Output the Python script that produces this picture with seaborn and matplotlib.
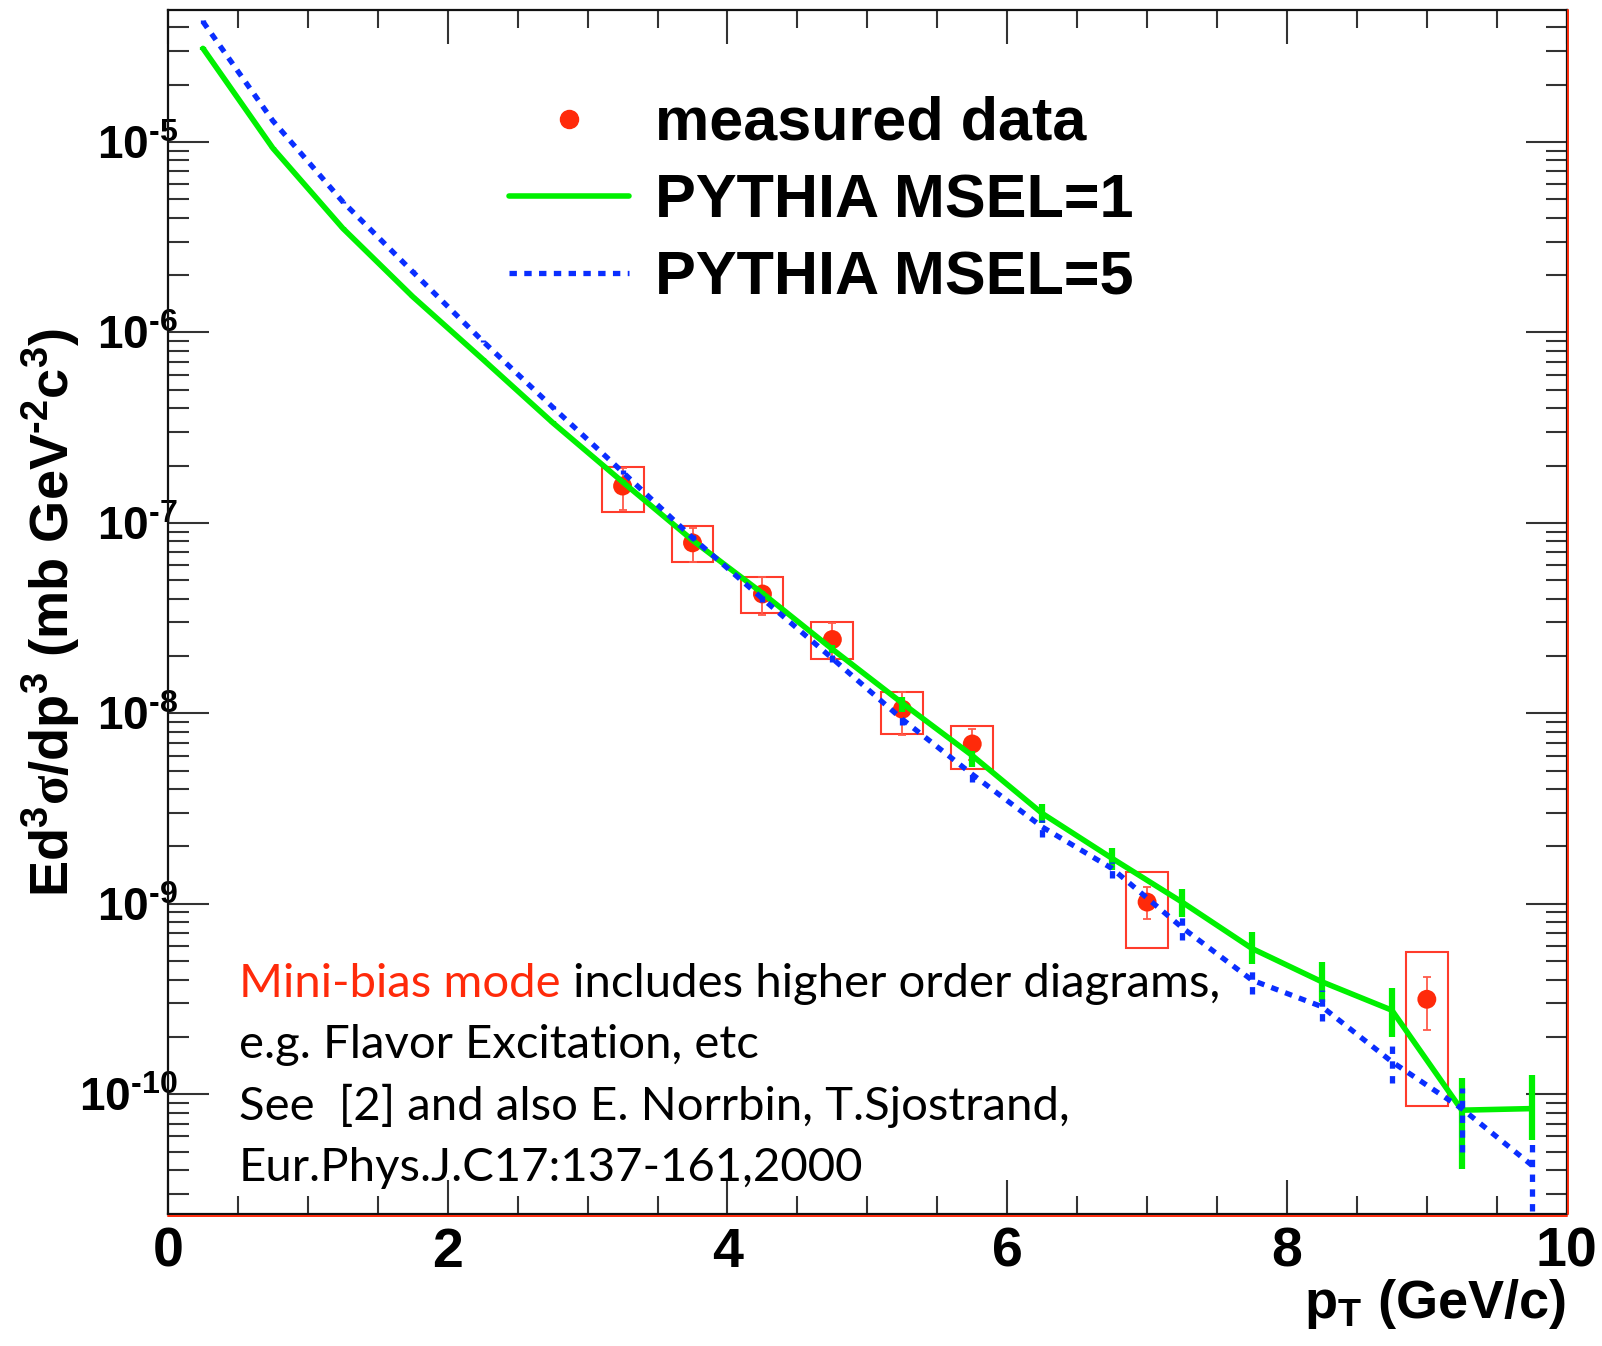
import matplotlib
matplotlib.use("Agg")
import matplotlib.pyplot as plt
import matplotlib.transforms as mtransforms
from matplotlib.patches import Rectangle
from matplotlib.lines import Line2D
from matplotlib.ticker import LogLocator, NullFormatter, MultipleLocator
import numpy as np
import pandas as pd
import seaborn as sns

# ---------------- data ----------------
# measured spectrum
pt_data = [3.25, 3.75, 4.25, 4.75, 5.25, 5.75, 7.0, 9.0]
xsec_data = [1.56e-7, 7.85e-8, 4.23e-8, 2.44e-8, 1.05e-8, 6.9e-9, 1.02e-9, 3.15e-10]
stat_lo = [1.17e-7, 6.2e-8, 3.3e-8, 1.95e-8, 7.7e-9, 5.7e-9, 8.3e-10, 2.17e-10]
stat_hi = [1.95e-7, 9.45e-8, 5.2e-8, 2.99e-8, 1.3e-8, 8.3e-9, 1.23e-9, 4.13e-10]
sys_lo = [1.14e-7, 6.2e-8, 3.37e-8, 1.92e-8, 7.76e-9, 5.08e-9, 5.82e-10, 8.65e-11]
sys_hi = [1.97e-7, 9.6e-8, 5.2e-8, 3.03e-8, 1.29e-8, 8.57e-9, 1.47e-9, 5.55e-10]
sys_halfwidth = [0.15, 0.15, 0.15, 0.15, 0.15, 0.15, 0.15, 0.15]

# PYTHIA predictions (bin centres)
pt_bins = [0.25, 0.75, 1.25, 1.75, 2.25, 2.75, 3.25, 3.75, 4.25, 4.75,
           5.25, 5.75, 6.25, 6.75, 7.25, 7.75, 8.25, 8.75, 9.25, 9.75]
msel1 = [3.1e-5, 9.27e-6, 3.52e-6, 1.54e-6, 7.23e-7, 3.36e-7, 1.64e-7, 8.1e-8, 4.27e-8, 2.17e-8,
         1.13e-8, 6.0e-9, 2.98e-9, 1.73e-9, 1.02e-9, 5.82e-10, 3.89e-10, 2.76e-10, 8.24e-11, 8.4e-11]
msel1_lo = [3.05e-5, 9.15e-6, 3.48e-6, 1.52e-6, 7.13e-7, 3.31e-7, 1.61e-7, 7.9e-8, 4.13e-8, 2.08e-8,
            1.02e-8, 5.24e-9, 2.64e-9, 1.5e-9, 8.5e-10, 4.83e-10, 3.05e-10, 2.0e-10, 4.07e-11, 5.73e-11]
msel1_hi = [3.15e-5, 9.4e-6, 3.56e-6, 1.56e-6, 7.33e-7, 3.41e-7, 1.67e-7, 8.3e-8, 4.41e-8, 2.27e-8,
            1.22e-8, 6.35e-9, 3.33e-9, 1.95e-9, 1.2e-9, 7.14e-10, 4.95e-10, 3.59e-10, 1.21e-10, 1.26e-10]
msel5 = [4.28e-5, 1.29e-5, 4.85e-6, 2.08e-6, 9.0e-7, 4.05e-7, 1.85e-7, 8.35e-8, 4.0e-8, 1.94e-8,
         9.3e-9, 4.78e-9, 2.53e-9, 1.53e-9, 7.5e-10, 3.97e-10, 2.88e-10, 1.48e-10, 8.4e-11, 4.24e-11]
msel5_lo = [4.2e-5, 1.27e-5, 4.78e-6, 2.04e-6, 8.85e-7, 3.97e-7, 1.8e-7, 8.1e-8, 3.85e-8, 1.85e-8,
            8.67e-9, 4.36e-9, 2.25e-9, 1.36e-9, 6.44e-10, 3.35e-10, 2.43e-10, 1.14e-10, 5.0e-11, 2.45e-11]
msel5_hi = [4.36e-5, 1.31e-5, 4.92e-6, 2.12e-6, 9.15e-7, 4.13e-7, 1.9e-7, 8.6e-8, 4.15e-8, 2.03e-8,
            1.02e-8, 5.13e-9, 2.75e-9, 1.66e-9, 8.53e-10, 4.75e-10, 3.52e-10, 1.88e-10, 1.08e-10, 5.73e-11]

x_ticks = [0, 2, 4, 6, 8, 10]
x_tick_labels = ["0", "2", "4", "6", "8", "10"]
y_ticks = [1e-10, 1e-9, 1e-8, 1e-7, 1e-6, 1e-5]
y_tick_labels = ["$10^{\u201010}$", "$10^{\u20109}$", "$10^{\u20108}$",
                 "$10^{\u20107}$", "$10^{\u20106}$", "$10^{\u20105}$"]

legend_labels = ["measured data", "PYTHIA MSEL=1", "PYTHIA MSEL=5"]
note_lines = ["e.g. Flavor Excitation, etc",
              "See  [2] and also E. Norrbin, T.Sjostrand,",
              "Eur.Phys.J.C17:137-161,2000"]

# ---------------- style ----------------
sns.set_theme(style="ticks")
plt.rcParams["font.family"] = ["Liberation Sans", "DejaVu Sans"]
plt.rcParams["font.weight"] = "bold"
plt.rcParams["text.color"] = "black"
plt.rcParams["axes.labelcolor"] = "black"
plt.rcParams["xtick.color"] = "black"
plt.rcParams["ytick.color"] = "black"
plt.rcParams["mathtext.fontset"] = "custom"
plt.rcParams["mathtext.rm"] = "Liberation Sans:bold"
plt.rcParams["mathtext.bf"] = "Liberation Sans:bold"
plt.rcParams["mathtext.it"] = "Liberation Sans:bold"
plt.rcParams["mathtext.sf"] = "Liberation Serif"

RED = "#ff2a0a"
BOX_RED = "#ff3b2b"
GREEN = "#00f000"
BLUE = "#0a2eff"
DOTS = (0, (1.4, 1.4))

W, H = 1602, 1346
fig = plt.figure(figsize=(W / 100, H / 100), dpi=100)
fig.patch.set_facecolor("white")
ax = fig.add_axes([168 / W, 1 - 1214.3 / H, (1566.7 - 168) / W, (1214.3 - 10) / H])
ax.set_facecolor("white")
ax.set_yscale("log")

# systematic boxes
for x, lo, hi, dx in zip(pt_data, sys_lo, sys_hi, sys_halfwidth):
    ax.add_patch(Rectangle((x - dx, lo), 2 * dx, hi - lo, fill=False,
                           edgecolor=BOX_RED, linewidth=1.5, zorder=2))

# statistical error bars and points
y = np.array(xsec_data)
ax.errorbar(pt_data, y, yerr=[y - np.array(stat_lo), np.array(stat_hi) - y],
            fmt="none", ecolor="#ff5a4a", elinewidth=1.3, capsize=2.8, capthick=1.3, zorder=2)
sns.scatterplot(x=pt_data, y=xsec_data, ax=ax, color=RED, s=185, edgecolor="none",
                zorder=3, legend=False)

theory = pd.DataFrame({"pt": pt_bins, "msel1": msel1, "msel5": msel5})

# MSEL=1 (solid green)
sns.lineplot(data=theory, x="pt", y="msel1", ax=ax, color=GREEN, linewidth=4.0,
             errorbar=None, zorder=4)
ax.vlines(pt_bins, msel1_lo, msel1_hi, colors=GREEN, linewidth=4.5, zorder=4)

# MSEL=5 (dotted blue)
sns.lineplot(data=theory, x="pt", y="msel5", ax=ax, color=BLUE, linewidth=3.8,
             errorbar=None, zorder=5)
ax.lines[-1].set_linestyle(DOTS)
ax.vlines(pt_bins, msel5_lo, msel5_hi, colors=BLUE, linewidth=3.8,
          linestyles=[DOTS], zorder=5)

# ---------------- axes ----------------
ax.set_xlim(0, 10)
ax.set_ylim(2.34e-11, 4.93e-5)
ax.set_xticks(x_ticks, x_tick_labels)
ax.xaxis.set_minor_locator(MultipleLocator(0.5))
ax.set_yticks(y_ticks, y_tick_labels)
ax.yaxis.set_minor_locator(LogLocator(base=10, subs=np.arange(2, 10)))
ax.yaxis.set_minor_formatter(NullFormatter())

ax.tick_params(axis="both", which="both", direction="in", top=True, right=True,
               color="#333333", width=1.5, labelcolor="black")
ax.tick_params(axis="x", which="major", length=24.5, labelsize=40, pad=9)
ax.tick_params(axis="x", which="minor", length=13)
ax.tick_params(axis="y", which="major", length=29.5, labelsize=33, pad=-7)
ax.tick_params(axis="y", which="minor", length=15)
for lab in ax.get_xticklabels():
    lab.set_fontweight("bold")

for sp in ax.spines.values():
    sp.set_color("#111111")
    sp.set_linewidth(1.6)

# thin red frame line along bottom and right edges
tb = mtransforms.offset_copy(ax.transAxes, fig=fig, x=0, y=-1.5, units="dots")
tr = mtransforms.offset_copy(ax.transAxes, fig=fig, x=1.5, y=0, units="dots")
ax.add_line(Line2D([0, 1], [0, 0], transform=tb, color=RED, lw=1.4, clip_on=False, zorder=6))
ax.add_line(Line2D([1, 1], [0, 1], transform=tr, color=RED, lw=1.4, clip_on=False, zorder=6))

ax.set_ylabel("Ed$^{3}$$\\mathsf{\\sigma}$/dp$^{3}$ (mb GeV$^{\u20102}$c$^{3}$)",
              fontsize=39, fontweight="bold", color="black")
ax.yaxis.set_label_coords((82 - 168) / (1566.7 - 168), 0.5)
ax.set_xlabel("")
fig.text(1566 / W, 1 - 1318 / H, r"p$_{\mathbf{T}}$ (GeV/c)", fontsize=39,
         fontweight="bold", ha="right", va="baseline", color="black")

# ---------------- legend ----------------
handles = [
    Line2D([], [], marker="o", color=RED, ls="none", markersize=13),
    Line2D([], [], color=GREEN, lw=4.0),
    Line2D([], [], color=BLUE, lw=3.8, ls=DOTS),
]
leg = ax.legend(handles, legend_labels, loc="upper left", bbox_to_anchor=(509 / W, 1 - 96 / H),
                bbox_transform=fig.transFigure, frameon=False, borderpad=0, borderaxespad=0,
                handlelength=1.96, handletextpad=0.43, labelspacing=0.33,
                prop={"family": "Liberation Sans", "weight": "bold", "size": 44})
for t in leg.get_texts():
    t.set_color("black")

# ---------------- note ----------------
note_font = dict(family=["Lato", "DejaVu Sans"], fontweight="normal", fontsize=34)
red_part = fig.text(239 / W, 1 - 996.7 / H, "Mini-bias mode", color=RED,
                    va="baseline", ha="left", **note_font)
ax.annotate(" includes higher order diagrams,", xy=(1, 0), xycoords=red_part,
            va="bottom", ha="left", color="black", annotation_clip=False, **note_font)
for i, line in enumerate(note_lines):
    fig.text(239 / W, 1 - (1058.3 + 61.2 * i) / H, line, color="black",
             va="baseline", ha="left", **note_font)

fig.savefig("out.png", dpi=100, facecolor="white")
